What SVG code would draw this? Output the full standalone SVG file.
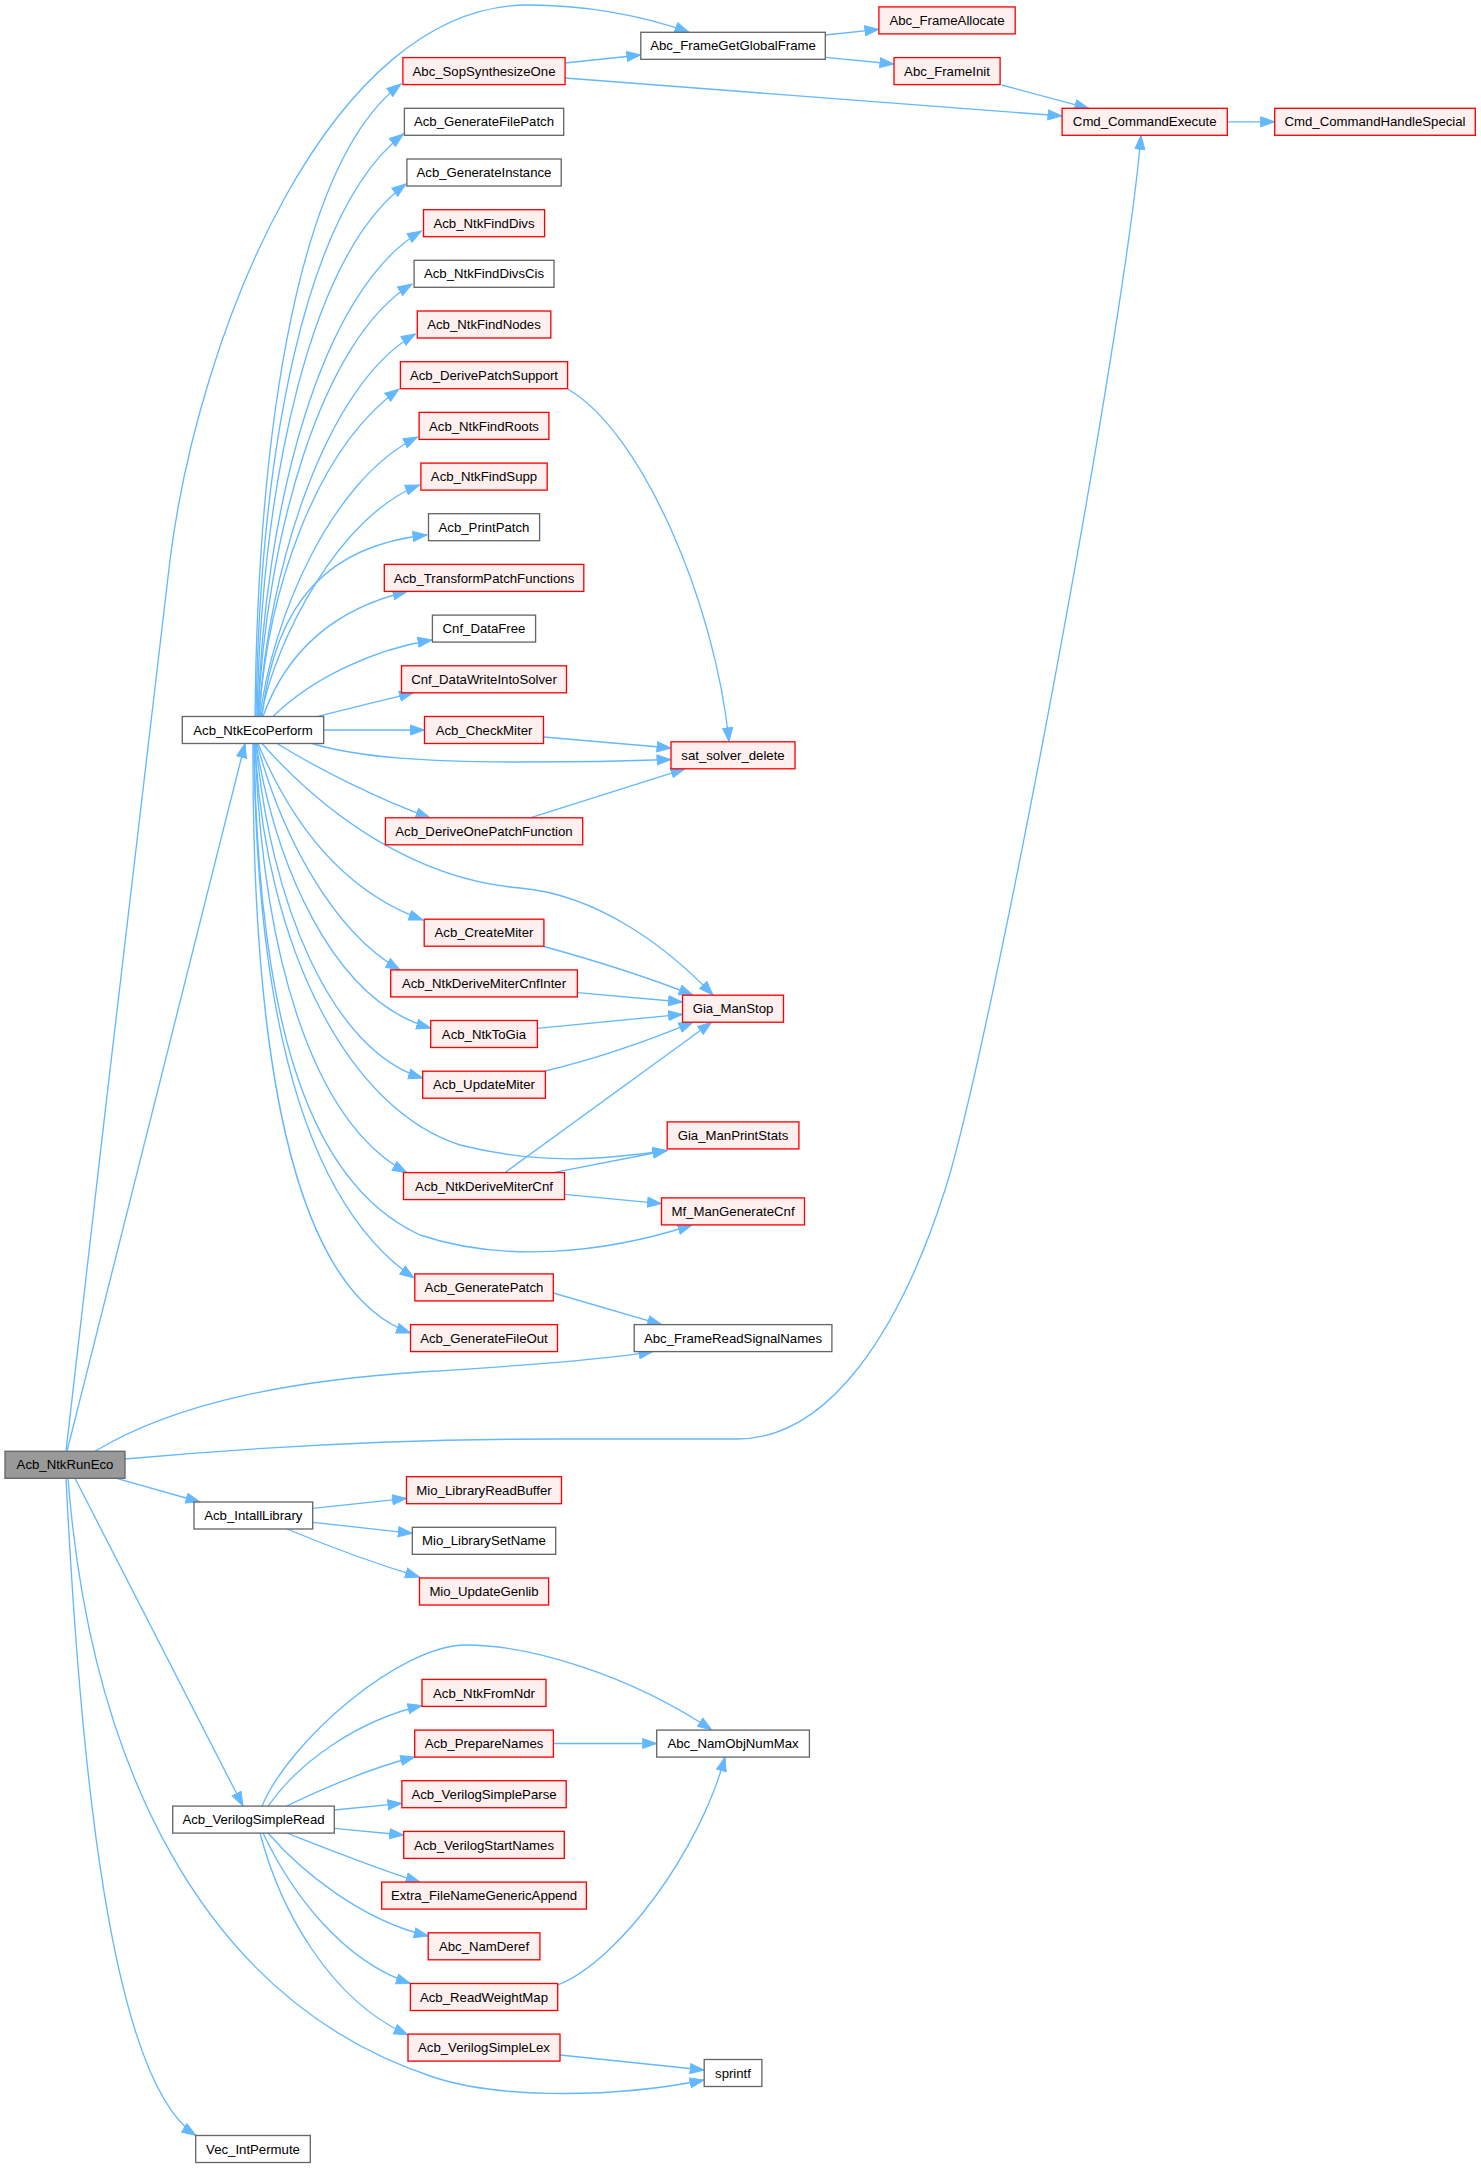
<svg xmlns="http://www.w3.org/2000/svg" width="1481" height="2168" viewBox="0 0 1481 2168">
<style>
.n rect{stroke-width:1.33}
.red rect{fill:#fff0f0;stroke:#ff0000}
.gray rect{fill:#ffffff;stroke:#666666}
.root rect{fill:#999999;stroke:#666666}
.n text{font-family:"Liberation Sans",Arial,sans-serif;font-size:13.2px;text-anchor:middle;fill:#000000}
.e path{fill:none;stroke:#63b8ff;stroke-width:1.33;marker-end:url(#ah)}
</style>
<defs>
<marker id="ah" markerUnits="userSpaceOnUse" markerWidth="16" markerHeight="12" viewBox="0 0 16 12" refX="14.5" refY="6" orient="auto">
<path d="M0.5,1 L14.5,6 L0.5,11 z" fill="#63b8ff" stroke="#63b8ff" stroke-width="1"/>
</marker>
</defs>
<rect x="0" y="0" width="1481" height="2168" fill="#ffffff"/>
<g id="edges" class="e">
<path d="M66,1451.3 C100,1160 140,800 170,560 C199,330 330,5 528,5 C580,5 640,14 689,32.3"/>
<path d="M67,1451.3 L245,743.5"/>
<path d="M95,1451.3 C180,1400 300,1380 420,1372 C520,1366 600,1360 653,1351.6"/>
<path d="M125,1459 C300,1443 450,1439 560,1439 L737,1439 C830,1439 900,1330 945,1190 C990,1050 1125,330 1141,135.3"/>
<path d="M116.7,1478.3 L200,1502"/>
<path d="M75,1478.3 L243,1806"/>
<path d="M68,1478.3 C90,1760 200,2000 433,2077 C503,2100 620,2097 704,2080"/>
<path d="M66,1478.3 C80,1760 110,2080 196,2135.5"/>
<path d="M255,716.5 C258,420 300,160 401,84"/>
<path d="M256,716.5 C260,450 305,210 403.5,134"/>
<path d="M257,716.5 C262,480 310,255 406,184"/>
<path d="M258,716.5 C264,510 320,290 421.5,231"/>
<path d="M258,716.5 C266,540 320,340 412,284"/>
<path d="M259,716.5 C268,570 325,385 415.5,334"/>
<path d="M259,716.5 C268,590 315,450 399,389"/>
<path d="M260,716.5 C272,620 330,480 417.5,437"/>
<path d="M261,716.5 C275,640 340,515 419.5,485"/>
<path d="M262,716.5 C275,600 330,545 427,535"/>
<path d="M263,716.5 C285,655 330,610 407,591.5"/>
<path d="M273,716.5 C310,680 370,650 432,640"/>
<path d="M318,716.5 C350,708 385,700 413.5,692.7"/>
<path d="M323.7,730 L424.5,730"/>
<path d="M312,743.5 C360,758 430,762 520,762 C580,762 630,761 671,759.5"/>
<path d="M277,743.5 C320,770 380,800 430,817.8"/>
<path d="M262,743.5 C330,820 420,880 520,888 C600,895 670,950 713,995.2"/>
<path d="M258,743.5 C290,820 340,890 423,920"/>
<path d="M257,743.5 C280,830 330,930 400,969.9"/>
<path d="M256,743.5 C275,860 330,1000 430.6,1028"/>
<path d="M256,743.5 C270,900 330,1050 422.6,1078"/>
<path d="M255,743.5 C265,950 350,1110 460,1145 C540,1165 600,1160 667,1150.5"/>
<path d="M255,743.5 C262,950 310,1120 406.7,1172.6"/>
<path d="M254,743.5 C258,1000 300,1180 420,1235 C500,1262 600,1255 692,1225"/>
<path d="M254,743.5 C256,1000 300,1200 414,1278"/>
<path d="M253,743.5 C252,1050 290,1290 410.5,1333"/>
<path d="M565,63 L640.8,55"/>
<path d="M565,78 L1062,116"/>
<path d="M825.3,35 L878.9,29.3"/>
<path d="M825.3,57.3 L894,64"/>
<path d="M1001.7,85 L1088.8,108.3"/>
<path d="M1227.3,121.8 L1274.7,121.8"/>
<path d="M567.6,389 C640,430 715,600 729,741.8"/>
<path d="M543.5,737 L671,748"/>
<path d="M530,817.8 L685,768.8"/>
<path d="M543.9,946.5 C600,962 650,978 693,995.2"/>
<path d="M577.3,992.7 L682.5,1002"/>
<path d="M537.3,1028.3 L682.5,1014.3"/>
<path d="M545.3,1071 C600,1058 650,1040 693,1022.2"/>
<path d="M505,1172.6 L711.7,1022.2"/>
<path d="M553.3,1172.6 L667,1150.5"/>
<path d="M564.5,1194.3 L661.5,1203.6"/>
<path d="M553.3,1293 L661.7,1324.6"/>
<path d="M312.7,1508.3 L406.5,1498.3"/>
<path d="M312.7,1522.3 L412.3,1533.3"/>
<path d="M287,1529 C330,1547 380,1565 419.5,1577"/>
<path d="M262,1806 C290,1740 400,1645 466,1645 C530,1645 630,1675 711.7,1730"/>
<path d="M268.3,1806 C300,1760 360,1720 422,1705.5"/>
<path d="M286.7,1806 C320,1790 370,1768 414.7,1757"/>
<path d="M334.3,1810 L401.9,1803.3"/>
<path d="M334.3,1828.3 L403.7,1835"/>
<path d="M286.7,1833 C330,1850 380,1870 420,1882.1"/>
<path d="M268,1833 C300,1870 360,1920 428.2,1936"/>
<path d="M263,1833 C290,1890 340,1960 410.4,1983.5"/>
<path d="M260,1833 C280,1910 330,2000 408,2035"/>
<path d="M553.3,1743.5 L656.7,1743.5"/>
<path d="M557.7,1985 C620,1960 700,1850 725,1757"/>
<path d="M560,2055 L704.2,2070"/>
</g>
<g id="Acb_NtkRunEco" class="n root"><rect x="5" y="1451.3" width="120" height="27"/><text x="65" y="1469.4">Acb_NtkRunEco</text></g>
<g id="Acb_NtkEcoPerform" class="n gray"><rect x="182.3" y="716.5" width="141.4" height="27"/><text x="253" y="734.6">Acb_NtkEcoPerform</text></g>
<g id="Acb_IntallLibrary" class="n gray"><rect x="194" y="1502" width="118.7" height="27"/><text x="253.3" y="1520.1">Acb_IntallLibrary</text></g>
<g id="Acb_VerilogSimpleRead" class="n gray"><rect x="172.7" y="1806.1" width="161.6" height="27"/><text x="253.5" y="1824.2">Acb_VerilogSimpleRead</text></g>
<g id="Vec_IntPermute" class="n gray"><rect x="195.7" y="2135.5" width="114.6" height="27"/><text x="253" y="2153.6">Vec_IntPermute</text></g>
<g id="Abc_SopSynthesizeOne" class="n red"><rect x="402.9" y="57.6" width="162.2" height="27"/><text x="484" y="75.7">Abc_SopSynthesizeOne</text></g>
<g id="Acb_GenerateFilePatch" class="n gray"><rect x="404.4" y="108.3" width="159.3" height="27"/><text x="484" y="126.4">Acb_GenerateFilePatch</text></g>
<g id="Acb_GenerateInstance" class="n gray"><rect x="406.9" y="159" width="154.3" height="27"/><text x="484" y="177.1">Acb_GenerateInstance</text></g>
<g id="Acb_NtkFindDivs" class="n red"><rect x="423.5" y="209.7" width="121.1" height="27"/><text x="484" y="227.8">Acb_NtkFindDivs</text></g>
<g id="Acb_NtkFindDivsCis" class="n gray"><rect x="414.1" y="260.3" width="139.9" height="27"/><text x="484" y="278.4">Acb_NtkFindDivsCis</text></g>
<g id="Acb_NtkFindNodes" class="n red"><rect x="417.3" y="311" width="133.5" height="27"/><text x="484" y="329.1">Acb_NtkFindNodes</text></g>
<g id="Acb_DerivePatchSupport" class="n red"><rect x="400.4" y="361.7" width="167.2" height="27"/><text x="484" y="379.8">Acb_DerivePatchSupport</text></g>
<g id="Acb_NtkFindRoots" class="n red"><rect x="419.1" y="412.4" width="129.8" height="27"/><text x="484" y="430.5">Acb_NtkFindRoots</text></g>
<g id="Acb_NtkFindSupp" class="n red"><rect x="420.9" y="463.1" width="126.3" height="27"/><text x="484" y="481.2">Acb_NtkFindSupp</text></g>
<g id="Acb_PrintPatch" class="n gray"><rect x="428.5" y="513.7" width="111.1" height="27"/><text x="484" y="531.8">Acb_PrintPatch</text></g>
<g id="Acb_TransformPatchFunctions" class="n red"><rect x="384.3" y="564.4" width="199.5" height="27"/><text x="484" y="582.5">Acb_TransformPatchFunctions</text></g>
<g id="Cnf_DataFree" class="n gray"><rect x="432.4" y="615.1" width="103.2" height="27"/><text x="484" y="633.2">Cnf_DataFree</text></g>
<g id="Cnf_DataWriteIntoSolver" class="n red"><rect x="401.5" y="665.8" width="165" height="27"/><text x="484" y="683.9">Cnf_DataWriteIntoSolver</text></g>
<g id="Acb_CheckMiter" class="n red"><rect x="424.5" y="716.5" width="119" height="27"/><text x="484" y="734.6">Acb_CheckMiter</text></g>
<g id="Acb_DeriveOnePatchFunction" class="n red"><rect x="385.4" y="817.8" width="197.3" height="27"/><text x="484" y="835.9">Acb_DeriveOnePatchFunction</text></g>
<g id="Acb_CreateMiter" class="n red"><rect x="424.2" y="919.2" width="119.7" height="27"/><text x="484" y="937.3">Acb_CreateMiter</text></g>
<g id="Acb_NtkDeriveMiterCnfInter" class="n red"><rect x="390.7" y="969.9" width="186.7" height="27"/><text x="484" y="988">Acb_NtkDeriveMiterCnfInter</text></g>
<g id="Acb_NtkToGia" class="n red"><rect x="430.7" y="1020.5" width="106.7" height="27"/><text x="484" y="1038.6">Acb_NtkToGia</text></g>
<g id="Acb_UpdateMiter" class="n red"><rect x="422.7" y="1071.2" width="122.7" height="27"/><text x="484" y="1089.3">Acb_UpdateMiter</text></g>
<g id="Acb_NtkDeriveMiterCnf" class="n red"><rect x="403.5" y="1172.6" width="161" height="27"/><text x="484" y="1190.7">Acb_NtkDeriveMiterCnf</text></g>
<g id="Acb_GeneratePatch" class="n red"><rect x="414.8" y="1273.9" width="138.5" height="27"/><text x="484" y="1292">Acb_GeneratePatch</text></g>
<g id="Acb_GenerateFileOut" class="n red"><rect x="410.5" y="1324.6" width="147" height="27"/><text x="484" y="1342.7">Acb_GenerateFileOut</text></g>
<g id="Mio_LibraryReadBuffer" class="n red"><rect x="406.5" y="1476.7" width="155" height="27"/><text x="484" y="1494.8">Mio_LibraryReadBuffer</text></g>
<g id="Mio_LibrarySetName" class="n gray"><rect x="412.3" y="1527.3" width="143.4" height="27"/><text x="484" y="1545.4">Mio_LibrarySetName</text></g>
<g id="Mio_UpdateGenlib" class="n red"><rect x="419.5" y="1578" width="129.1" height="27"/><text x="484" y="1596.1">Mio_UpdateGenlib</text></g>
<g id="Acb_NtkFromNdr" class="n red"><rect x="422" y="1679.4" width="124" height="27"/><text x="484" y="1697.5">Acb_NtkFromNdr</text></g>
<g id="Acb_PrepareNames" class="n red"><rect x="414.7" y="1730.1" width="138.7" height="27"/><text x="484" y="1748.2">Acb_PrepareNames</text></g>
<g id="Acb_VerilogSimpleParse" class="n red"><rect x="401.9" y="1780.7" width="164.3" height="27"/><text x="484" y="1798.8">Acb_VerilogSimpleParse</text></g>
<g id="Acb_VerilogStartNames" class="n red"><rect x="403.7" y="1831.4" width="160.6" height="27"/><text x="484" y="1849.5">Acb_VerilogStartNames</text></g>
<g id="Extra_FileNameGenericAppend" class="n red"><rect x="381.7" y="1882.1" width="204.7" height="27"/><text x="484" y="1900.2">Extra_FileNameGenericAppend</text></g>
<g id="Abc_NamDeref" class="n red"><rect x="428.2" y="1932.8" width="111.7" height="27"/><text x="484" y="1950.9">Abc_NamDeref</text></g>
<g id="Acb_ReadWeightMap" class="n red"><rect x="410.4" y="1983.5" width="147.3" height="27"/><text x="484" y="2001.6">Acb_ReadWeightMap</text></g>
<g id="Acb_VerilogSimpleLex" class="n red"><rect x="408" y="2034.1" width="152" height="27"/><text x="484" y="2052.2">Acb_VerilogSimpleLex</text></g>
<g id="Abc_FrameGetGlobalFrame" class="n gray"><rect x="640.8" y="32.3" width="184.5" height="27"/><text x="733" y="50.4">Abc_FrameGetGlobalFrame</text></g>
<g id="sat_solver_delete" class="n red"><rect x="671" y="741.8" width="124" height="27"/><text x="733" y="759.9">sat_solver_delete</text></g>
<g id="Gia_ManStop" class="n red"><rect x="682.5" y="995.2" width="101" height="27"/><text x="733" y="1013.3">Gia_ManStop</text></g>
<g id="Gia_ManPrintStats" class="n red"><rect x="667.2" y="1121.9" width="131.7" height="27"/><text x="733" y="1140">Gia_ManPrintStats</text></g>
<g id="Mf_ManGenerateCnf" class="n red"><rect x="661.5" y="1197.9" width="143" height="27"/><text x="733" y="1216">Mf_ManGenerateCnf</text></g>
<g id="Abc_FrameReadSignalNames" class="n gray"><rect x="634.2" y="1324.6" width="197.7" height="27"/><text x="733" y="1342.7">Abc_FrameReadSignalNames</text></g>
<g id="Abc_NamObjNumMax" class="n gray"><rect x="656.7" y="1730.1" width="152.7" height="27"/><text x="733" y="1748.2">Abc_NamObjNumMax</text></g>
<g id="sprintf" class="n gray"><rect x="704.2" y="2059.5" width="57.7" height="27"/><text x="733" y="2077.6">sprintf</text></g>
<g id="Abc_FrameAllocate" class="n red"><rect x="878.9" y="6.9" width="136.3" height="27"/><text x="947" y="25">Abc_FrameAllocate</text></g>
<g id="Abc_FrameInit" class="n red"><rect x="894" y="57.6" width="106.1" height="27"/><text x="947" y="75.7">Abc_FrameInit</text></g>
<g id="Cmd_CommandExecute" class="n red"><rect x="1062.1" y="108.3" width="165.2" height="27"/><text x="1144.7" y="126.4">Cmd_CommandExecute</text></g>
<g id="Cmd_CommandHandleSpecial" class="n red"><rect x="1274.7" y="108.3" width="200.6" height="27"/><text x="1375" y="126.4">Cmd_CommandHandleSpecial</text></g>
</svg>
